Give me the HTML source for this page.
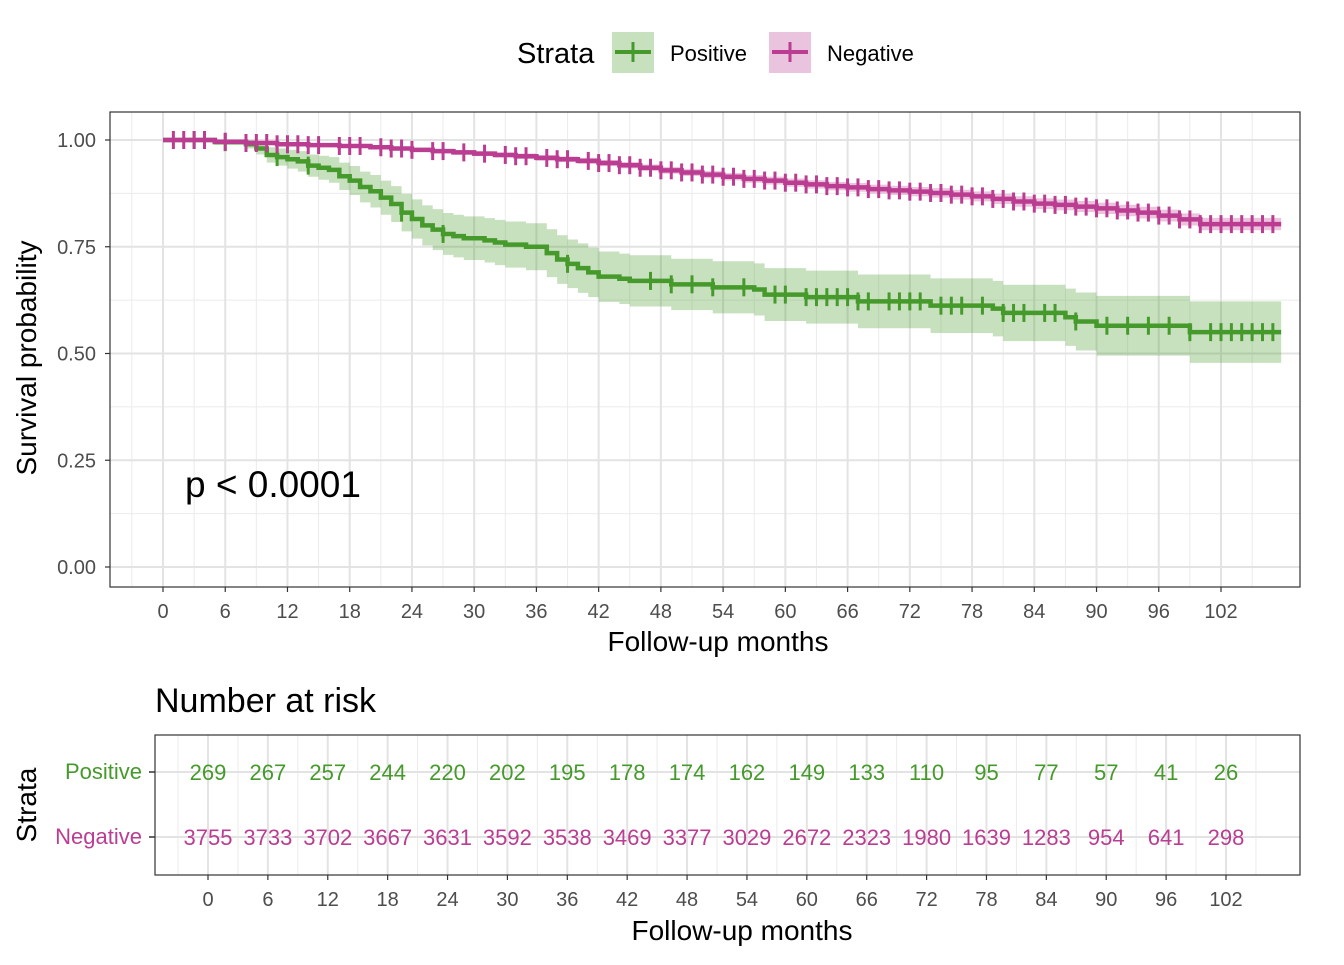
<!DOCTYPE html>
<html><head><meta charset="utf-8"><style>
body{margin:0;background:#fff}
svg text{font-family:"Liberation Sans",Arial,sans-serif}
</style></head><body>
<svg id="c" width="1344" height="960" xmlns="http://www.w3.org/2000/svg"></svg>
<script>
const posTimes=[0,5,8,9,10,11,12,13,14,15,16,17,18,19,20,21,22,23,24,25,26,27,28,29,31,32,33,35,37,38,39,40,41,42,44,45,49,53,57,58,62,67,74,80,81,87,88,90,99];
const posSurv=[1.0,0.995,0.99,0.98,0.965,0.96,0.955,0.95,0.94,0.935,0.93,0.915,0.905,0.89,0.88,0.865,0.85,0.83,0.815,0.8,0.79,0.78,0.775,0.77,0.765,0.76,0.755,0.75,0.735,0.72,0.71,0.7,0.69,0.68,0.675,0.67,0.662,0.655,0.65,0.638,0.632,0.622,0.612,0.605,0.595,0.585,0.575,0.565,0.55];
const posHalf=[0,0.006,0.01,0.014,0.018,0.02,0.022,0.024,0.026,0.028,0.03,0.032,0.034,0.036,0.038,0.04,0.042,0.044,0.046,0.047,0.048,0.049,0.05,0.051,0.052,0.053,0.054,0.055,0.056,0.057,0.057,0.058,0.058,0.059,0.059,0.06,0.06,0.061,0.061,0.062,0.062,0.063,0.064,0.065,0.066,0.067,0.068,0.07,0.072];
const posCensor=[3,6,11,14,23,27,39,47,49,51,53,56,59,60,62,63,64,65,66,67,68,70,71,72,73,75,76,77,79,81,82,83,85,86,88,91,93,95,97,99,101,102,103,104,105,106,107];
const negTimes=[0,5,8,11,14,17,20,22,24,26,28,30,32,34,36,38,40,42,44,46,48,50,52,54,56,58,60,62,64,66,68,70,72,74,76,78,80,82,84,86,88,90,92,94,96,98,100];
const negSurv=[1.0,0.996,0.993,0.99,0.988,0.986,0.983,0.98,0.977,0.974,0.971,0.968,0.965,0.962,0.958,0.955,0.951,0.946,0.941,0.935,0.929,0.924,0.919,0.914,0.909,0.905,0.9,0.896,0.892,0.889,0.885,0.882,0.879,0.876,0.872,0.868,0.862,0.856,0.851,0.848,0.844,0.84,0.835,0.83,0.823,0.814,0.803];
const negCensor=[1,2,3,4,6,8,9,10,11,12,13,14,15,17,18,19,21,22,23,24,26,27,29,31,33,34,35,37,38,39,41,42,43,44,45,46,47,48,49,50,51,52,53,54,55,56,57,58,59,60,61,62,63,64,65,66,67,68,69,70,71,72,73,74,75,76,77,78,79,80,81,82,83,84,85,86,87,88,89,90,91,92,93,94,95,96,97,98,99,100,101,102,103,104,105,106,107];
const endTime=107.8;
const xTicks=[0,6,12,18,24,30,36,42,48,54,60,66,72,78,84,90,96,102];
const yTicks=[0,0.25,0.5,0.75,1.0];
const yTickLabels=["0.00","0.25","0.50","0.75","1.00"];
const riskPos=[269,267,257,244,220,202,195,178,174,162,149,133,110,95,77,57,41,26];
const riskNeg=[3755,3733,3702,3667,3631,3592,3538,3469,3377,3029,2672,2323,1980,1639,1283,954,641,298];
const GREEN="#459a2b",PINK="#bb3d91";
const svg=document.getElementById('c');
const NS="http://www.w3.org/2000/svg";
function mk(t,a,p){const e=document.createElementNS(NS,t);for(const k in a)e.setAttribute(k,a[k]);(p||svg).appendChild(e);return e;}
function tx(s,a,p){const e=mk('text',a,p);e.textContent=s;return e;}
const P={l:110,r:1300,t:112,b:587};
const X=m=>163+m*(1221-163)/102;
const Y=s=>567-s*427;
let e;
e=mk('rect',{x:P.l,y:P.t,width:P.r-P.l,height:P.b-P.t,fill:'#fff'});


for(let m=-3;m<=108;m+=6){mk('line',{x1:X(m),x2:X(m),y1:P.t,y2:P.b,stroke:'#ebebeb','stroke-width':1});}
for(let s=0.125;s<=1.1;s+=0.25){mk('line',{x1:P.l,x2:P.r,y1:Y(s),y2:Y(s),stroke:'#ebebeb','stroke-width':1});}
xTicks.forEach(m=>mk('line',{x1:X(m),x2:X(m),y1:P.t,y2:P.b,stroke:'#e3e3e3','stroke-width':2}));
yTicks.forEach(s=>mk('line',{x1:P.l,x2:P.r,y1:Y(s),y2:Y(s),stroke:'#e3e3e3','stroke-width':2}));
function stepPts(times,vals){let pts=[];for(let i=0;i<times.length;i++){const t2=i<times.length-1?times[i+1]:endTime;pts.push([X(times[i]),Y(vals[i])],[X(t2),Y(vals[i])]);}return pts;}
const up=stepPts(posTimes,posSurv.map((v,i)=>Math.min(1,v+posHalf[i]))),lo=stepPts(posTimes,posSurv.map((v,i)=>v-posHalf[i])).reverse();
e=mk('polygon',{points:up.concat(lo).map(p=>p.join(',')).join(' '),fill:GREEN,'fill-opacity':0.3});


const nu=stepPts(negTimes,negSurv.map((v,i)=>Math.min(1,v+0.003+i*0.00025))),nl=stepPts(negTimes,negSurv.map((v,i)=>v-0.003-i*0.00025)).reverse();
e=mk('polygon',{points:nu.concat(nl).map(p=>p.join(',')).join(' '),fill:PINK,'fill-opacity':0.3});


function survAt(times,vals,t){let v=vals[0];for(let i=0;i<times.length;i++)if(times[i]<=t)v=vals[i];return v;}
function curve(times,vals,cens,col,name){
  const g=mk('g',{});
  
  
  const pts=stepPts(times,vals);
  mk('polyline',{points:pts.map(p=>p.join(',')).join(' '),fill:'none',stroke:col,'stroke-width':4.5},g);
  cens.forEach(t=>{const y=Y(survAt(times,vals,t)),x=X(t);mk('line',{x1:x,x2:x,y1:y-9,y2:y+9,stroke:col,'stroke-width':3},g);});
}
curve(posTimes,posSurv,posCensor,GREEN,'positive-curve');
curve(negTimes,negSurv,negCensor,PINK,'negative-curve');
e=mk('rect',{x:P.l,y:P.t,width:P.r-P.l,height:P.b-P.t,fill:'none',stroke:'#333','stroke-width':1.2});


xTicks.forEach(m=>{mk('line',{x1:X(m),x2:X(m),y1:P.b,y2:P.b+5,stroke:'#333','stroke-width':1.2});
 e=tx(m,{x:X(m),y:618,'text-anchor':'middle','font-size':20,fill:'#4d4d4d'});});
yTicks.forEach((s,i)=>{mk('line',{x1:P.l-5,x2:P.l,y1:Y(s),y2:Y(s),stroke:'#333','stroke-width':1.2});
 e=tx(yTickLabels[i],{x:96,y:Y(s)+7,'text-anchor':'end','font-size':20,fill:'#4d4d4d'});});
e=tx('Follow-up months',{x:718,y:651,'text-anchor':'middle','font-size':28,fill:'#000'});
e=tx('Survival probability',{x:0,y:0,'text-anchor':'middle','font-size':28,fill:'#000',transform:'translate(36,358) rotate(-90)'});
e=tx('p < 0.0001',{x:185,y:497,'font-size':37,fill:'#000'});
const lg=mk('g',{});
tx('Strata',{x:517,y:63,'font-size':29,fill:'#000'},lg);
[[612,GREEN,'Positive',670],[769,PINK,'Negative',827]].forEach(([x,c,l,tx0])=>{
  const g=mk('g',{},lg);
  mk('rect',{x:x,y:32,width:42,height:41,fill:c,'fill-opacity':0.3},g);
  mk('line',{x1:x+3,x2:x+39,y1:52,y2:52,stroke:c,'stroke-width':4},g);
  mk('line',{x1:x+21,x2:x+21,y1:42,y2:62,stroke:c,'stroke-width':3},g);
  tx(l,{x:tx0,y:61,'font-size':22,fill:'#000'},g);
});
e=tx('Number at risk',{x:155,y:712,'font-size':34,fill:'#000'});
const R={l:155,r:1300,t:735,b:875};
const XR=m=>208+m*(1226-208)/102;
const rows=[772,837];
e=mk('rect',{x:R.l,y:R.t,width:R.r-R.l,height:R.b-R.t,fill:'#fff'});
for(let m=-3;m<=108;m+=6)mk('line',{x1:XR(m),x2:XR(m),y1:R.t,y2:R.b,stroke:'#ebebeb','stroke-width':1});
xTicks.forEach(m=>mk('line',{x1:XR(m),x2:XR(m),y1:R.t,y2:R.b,stroke:'#e3e3e3','stroke-width':2}));
rows.forEach(y=>mk('line',{x1:R.l,x2:R.r,y1:y,y2:y,stroke:'#e3e3e3','stroke-width':2}));
xTicks.forEach((m,i)=>{
 e=tx(riskPos[i],{x:XR(m),y:rows[0]+8,'text-anchor':'middle','font-size':22,fill:GREEN});
 e=tx(riskNeg[i],{x:XR(m),y:rows[1]+8,'text-anchor':'middle','font-size':22,fill:PINK});
 mk('line',{x1:XR(m),x2:XR(m),y1:R.b,y2:R.b+5,stroke:'#333','stroke-width':1.2});
 e=tx(m,{x:XR(m),y:906,'text-anchor':'middle','font-size':20,fill:'#4d4d4d'});
});
mk('rect',{x:R.l,y:R.t,width:R.r-R.l,height:R.b-R.t,fill:'none',stroke:'#333','stroke-width':1.2});
[['Positive',GREEN],['Negative',PINK]].forEach(([l,c],i)=>{
 mk('line',{x1:R.l-6,x2:R.l,y1:rows[i],y2:rows[i],stroke:'#333','stroke-width':1.5});
 e=tx(l,{x:142,y:rows[i]+7,'text-anchor':'end','font-size':22,fill:c});
});
e=tx('Strata',{x:0,y:0,'text-anchor':'middle','font-size':28,fill:'#000',transform:'translate(36,805) rotate(-90)'});
e=tx('Follow-up months',{x:742,y:940,'text-anchor':'middle','font-size':28,fill:'#000'});
</script>
</body></html>
